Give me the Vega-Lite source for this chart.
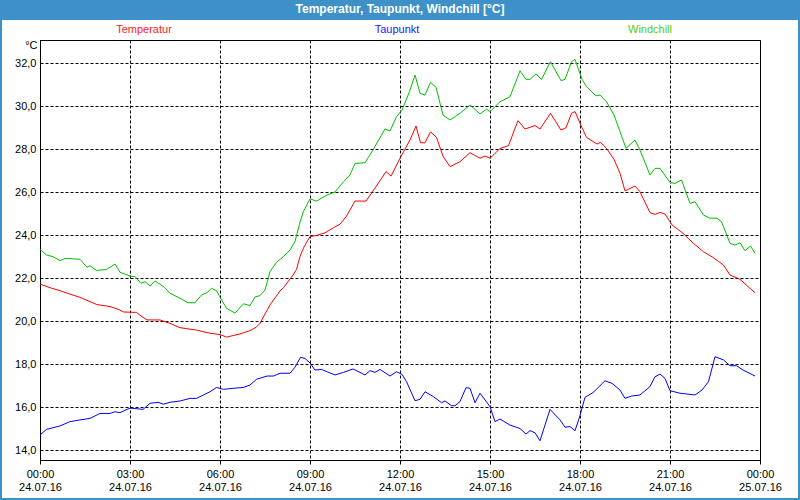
{
  "$schema": "https://vega.github.io/schema/vega-lite/v6.json",
  "width": 720,
  "height": 420,
  "autosize": {"type": "none"},
  "padding": {"left": 40, "top": 40, "right": 40, "bottom": 40},
  "background": "#ffffff",
  "config": {
    "font": "Liberation Sans",
    "locale": {"number": {"decimal": ",", "thousands": ".", "grouping": [3], "currency": ["", " €"]}},
    "view": {"stroke": "#000000", "strokeWidth": 1},
    "axis": {"domainColor": "#000000", "labelColor": "#000000", "labelFontSize": 11, "labelFont": "Liberation Sans", "gridColor": "#000000", "gridDash": [3, 2], "gridWidth": 1, "tickColor": "#000000"}
  },
  "datasets": {
    "box": [{"k": 1}],
    "wx": [
      {"t":"2016-07-24T00:00","s":"Temperatur","v":21.72},{"t":"2016-07-24T00:20","s":"Temperatur","v":21.55},{"t":"2016-07-24T00:40","s":"Temperatur","v":21.41},{"t":"2016-07-24T01:00","s":"Temperatur","v":21.25},{"t":"2016-07-24T01:20","s":"Temperatur","v":21.10},{"t":"2016-07-24T01:40","s":"Temperatur","v":20.90},{"t":"2016-07-24T01:53","s":"Temperatur","v":20.77},{"t":"2016-07-24T02:20","s":"Temperatur","v":20.67},{"t":"2016-07-24T02:36","s":"Temperatur","v":20.55},{"t":"2016-07-24T02:47","s":"Temperatur","v":20.42},{"t":"2016-07-24T03:13","s":"Temperatur","v":20.40},{"t":"2016-07-24T03:24","s":"Temperatur","v":20.20},{"t":"2016-07-24T03:34","s":"Temperatur","v":20.05},{"t":"2016-07-24T04:00","s":"Temperatur","v":20.05},{"t":"2016-07-24T04:20","s":"Temperatur","v":19.89},{"t":"2016-07-24T04:40","s":"Temperatur","v":19.69},{"t":"2016-07-24T05:00","s":"Temperatur","v":19.62},{"t":"2016-07-24T05:13","s":"Temperatur","v":19.58},{"t":"2016-07-24T05:40","s":"Temperatur","v":19.43},{"t":"2016-07-24T06:00","s":"Temperatur","v":19.37},{"t":"2016-07-24T06:13","s":"Temperatur","v":19.25},{"t":"2016-07-24T06:40","s":"Temperatur","v":19.40},{"t":"2016-07-24T07:00","s":"Temperatur","v":19.55},{"t":"2016-07-24T07:13","s":"Temperatur","v":19.72},{"t":"2016-07-24T07:20","s":"Temperatur","v":19.89},{"t":"2016-07-24T07:34","s":"Temperatur","v":20.50},{"t":"2016-07-24T07:40","s":"Temperatur","v":20.75},{"t":"2016-07-24T08:00","s":"Temperatur","v":21.40},{"t":"2016-07-24T08:07","s":"Temperatur","v":21.55},{"t":"2016-07-24T08:26","s":"Temperatur","v":22.14},{"t":"2016-07-24T08:33","s":"Temperatur","v":22.40},{"t":"2016-07-24T08:40","s":"Temperatur","v":23.00},{"t":"2016-07-24T08:47","s":"Temperatur","v":23.40},{"t":"2016-07-24T09:00","s":"Temperatur","v":23.93},{"t":"2016-07-24T09:13","s":"Temperatur","v":23.98},{"t":"2016-07-24T09:30","s":"Temperatur","v":24.10},{"t":"2016-07-24T09:47","s":"Temperatur","v":24.34},{"t":"2016-07-24T10:00","s":"Temperatur","v":24.50},{"t":"2016-07-24T10:13","s":"Temperatur","v":24.88},{"t":"2016-07-24T10:30","s":"Temperatur","v":25.58},{"t":"2016-07-24T10:52","s":"Temperatur","v":25.58},{"t":"2016-07-24T11:13","s":"Temperatur","v":26.28},{"t":"2016-07-24T11:32","s":"Temperatur","v":26.95},{"t":"2016-07-24T11:42","s":"Temperatur","v":26.74},{"t":"2016-07-24T12:00","s":"Temperatur","v":27.57},{"t":"2016-07-24T12:20","s":"Temperatur","v":28.42},{"t":"2016-07-24T12:32","s":"Temperatur","v":29.07},{"t":"2016-07-24T12:41","s":"Temperatur","v":28.29},{"t":"2016-07-24T12:50","s":"Temperatur","v":28.29},{"t":"2016-07-24T13:01","s":"Temperatur","v":28.80},{"t":"2016-07-24T13:13","s":"Temperatur","v":28.54},{"t":"2016-07-24T13:26","s":"Temperatur","v":27.67},{"t":"2016-07-24T13:40","s":"Temperatur","v":27.18},{"t":"2016-07-24T14:00","s":"Temperatur","v":27.41},{"t":"2016-07-24T14:20","s":"Temperatur","v":27.83},{"t":"2016-07-24T14:40","s":"Temperatur","v":27.57},{"t":"2016-07-24T14:50","s":"Temperatur","v":27.67},{"t":"2016-07-24T15:00","s":"Temperatur","v":27.57},{"t":"2016-07-24T15:20","s":"Temperatur","v":28.02},{"t":"2016-07-24T15:37","s":"Temperatur","v":28.16},{"t":"2016-07-24T15:56","s":"Temperatur","v":29.32},{"t":"2016-07-24T16:10","s":"Temperatur","v":28.93},{"t":"2016-07-24T16:30","s":"Temperatur","v":29.09},{"t":"2016-07-24T16:40","s":"Temperatur","v":28.93},{"t":"2016-07-24T17:01","s":"Temperatur","v":29.66},{"t":"2016-07-24T17:22","s":"Temperatur","v":28.88},{"t":"2016-07-24T17:32","s":"Temperatur","v":28.99},{"t":"2016-07-24T17:43","s":"Temperatur","v":29.66},{"t":"2016-07-24T17:50","s":"Temperatur","v":29.74},{"t":"2016-07-24T18:04","s":"Temperatur","v":28.99},{"t":"2016-07-24T18:13","s":"Temperatur","v":28.54},{"t":"2016-07-24T18:34","s":"Temperatur","v":28.23},{"t":"2016-07-24T18:41","s":"Temperatur","v":28.31},{"t":"2016-07-24T18:53","s":"Temperatur","v":28.03},{"t":"2016-07-24T19:08","s":"Temperatur","v":27.52},{"t":"2016-07-24T19:20","s":"Temperatur","v":26.87},{"t":"2016-07-24T19:30","s":"Temperatur","v":26.05},{"t":"2016-07-24T19:50","s":"Temperatur","v":26.28},{"t":"2016-07-24T20:00","s":"Temperatur","v":26.01},{"t":"2016-07-24T20:20","s":"Temperatur","v":25.04},{"t":"2016-07-24T20:30","s":"Temperatur","v":24.96},{"t":"2016-07-24T20:40","s":"Temperatur","v":25.05},{"t":"2016-07-24T20:50","s":"Temperatur","v":24.98},{"t":"2016-07-24T21:04","s":"Temperatur","v":24.47},{"t":"2016-07-24T21:26","s":"Temperatur","v":24.08},{"t":"2016-07-24T21:47","s":"Temperatur","v":23.61},{"t":"2016-07-24T22:07","s":"Temperatur","v":23.22},{"t":"2016-07-24T22:26","s":"Temperatur","v":22.96},{"t":"2016-07-24T22:47","s":"Temperatur","v":22.60},{"t":"2016-07-24T23:00","s":"Temperatur","v":22.14},{"t":"2016-07-24T23:20","s":"Temperatur","v":21.94},{"t":"2016-07-24T23:36","s":"Temperatur","v":21.60},{"t":"2016-07-24T23:50","s":"Temperatur","v":21.32},
      {"t":"2016-07-24T00:00","s":"Taupunkt","v":14.70},{"t":"2016-07-24T00:13","s":"Taupunkt","v":14.96},{"t":"2016-07-24T00:40","s":"Taupunkt","v":15.12},{"t":"2016-07-24T01:00","s":"Taupunkt","v":15.32},{"t":"2016-07-24T01:20","s":"Taupunkt","v":15.40},{"t":"2016-07-24T01:40","s":"Taupunkt","v":15.47},{"t":"2016-07-24T02:00","s":"Taupunkt","v":15.70},{"t":"2016-07-24T02:20","s":"Taupunkt","v":15.70},{"t":"2016-07-24T02:30","s":"Taupunkt","v":15.78},{"t":"2016-07-24T02:40","s":"Taupunkt","v":15.74},{"t":"2016-07-24T03:00","s":"Taupunkt","v":15.95},{"t":"2016-07-24T03:26","s":"Taupunkt","v":15.89},{"t":"2016-07-24T03:40","s":"Taupunkt","v":16.17},{"t":"2016-07-24T03:56","s":"Taupunkt","v":16.22},{"t":"2016-07-24T04:07","s":"Taupunkt","v":16.13},{"t":"2016-07-24T04:20","s":"Taupunkt","v":16.22},{"t":"2016-07-24T04:40","s":"Taupunkt","v":16.28},{"t":"2016-07-24T05:00","s":"Taupunkt","v":16.40},{"t":"2016-07-24T05:13","s":"Taupunkt","v":16.40},{"t":"2016-07-24T05:40","s":"Taupunkt","v":16.71},{"t":"2016-07-24T05:53","s":"Taupunkt","v":16.91},{"t":"2016-07-24T06:07","s":"Taupunkt","v":16.82},{"t":"2016-07-24T06:26","s":"Taupunkt","v":16.87},{"t":"2016-07-24T06:47","s":"Taupunkt","v":16.91},{"t":"2016-07-24T07:00","s":"Taupunkt","v":17.02},{"t":"2016-07-24T07:13","s":"Taupunkt","v":17.29},{"t":"2016-07-24T07:34","s":"Taupunkt","v":17.44},{"t":"2016-07-24T07:47","s":"Taupunkt","v":17.44},{"t":"2016-07-24T08:00","s":"Taupunkt","v":17.57},{"t":"2016-07-24T08:20","s":"Taupunkt","v":17.57},{"t":"2016-07-24T08:30","s":"Taupunkt","v":17.85},{"t":"2016-07-24T08:41","s":"Taupunkt","v":18.31},{"t":"2016-07-24T08:50","s":"Taupunkt","v":18.26},{"t":"2016-07-24T09:00","s":"Taupunkt","v":18.05},{"t":"2016-07-24T09:10","s":"Taupunkt","v":17.72},{"t":"2016-07-24T09:23","s":"Taupunkt","v":17.75},{"t":"2016-07-24T09:34","s":"Taupunkt","v":17.64},{"t":"2016-07-24T09:50","s":"Taupunkt","v":17.49},{"t":"2016-07-24T10:07","s":"Taupunkt","v":17.61},{"t":"2016-07-24T10:26","s":"Taupunkt","v":17.77},{"t":"2016-07-24T10:50","s":"Taupunkt","v":17.49},{"t":"2016-07-24T11:00","s":"Taupunkt","v":17.69},{"t":"2016-07-24T11:10","s":"Taupunkt","v":17.61},{"t":"2016-07-24T11:20","s":"Taupunkt","v":17.75},{"t":"2016-07-24T11:40","s":"Taupunkt","v":17.44},{"t":"2016-07-24T11:53","s":"Taupunkt","v":17.64},{"t":"2016-07-24T12:04","s":"Taupunkt","v":17.52},{"t":"2016-07-24T12:13","s":"Taupunkt","v":17.18},{"t":"2016-07-24T12:30","s":"Taupunkt","v":16.29},{"t":"2016-07-24T12:40","s":"Taupunkt","v":16.36},{"t":"2016-07-24T12:50","s":"Taupunkt","v":16.71},{"t":"2016-07-24T13:07","s":"Taupunkt","v":16.48},{"t":"2016-07-24T13:23","s":"Taupunkt","v":16.20},{"t":"2016-07-24T13:30","s":"Taupunkt","v":16.28},{"t":"2016-07-24T13:43","s":"Taupunkt","v":16.06},{"t":"2016-07-24T13:50","s":"Taupunkt","v":16.06},{"t":"2016-07-24T14:00","s":"Taupunkt","v":16.25},{"t":"2016-07-24T14:12","s":"Taupunkt","v":16.90},{"t":"2016-07-24T14:20","s":"Taupunkt","v":16.87},{"t":"2016-07-24T14:30","s":"Taupunkt","v":16.20},{"t":"2016-07-24T14:40","s":"Taupunkt","v":16.64},{"t":"2016-07-24T15:00","s":"Taupunkt","v":16.02},{"t":"2016-07-24T15:10","s":"Taupunkt","v":15.32},{"t":"2016-07-24T15:20","s":"Taupunkt","v":15.44},{"t":"2016-07-24T15:40","s":"Taupunkt","v":15.16},{"t":"2016-07-24T16:00","s":"Taupunkt","v":15.00},{"t":"2016-07-24T16:12","s":"Taupunkt","v":14.74},{"t":"2016-07-24T16:20","s":"Taupunkt","v":14.90},{"t":"2016-07-24T16:30","s":"Taupunkt","v":14.80},{"t":"2016-07-24T16:40","s":"Taupunkt","v":14.43},{"t":"2016-07-24T16:50","s":"Taupunkt","v":15.16},{"t":"2016-07-24T17:00","s":"Taupunkt","v":15.89},{"t":"2016-07-24T17:20","s":"Taupunkt","v":15.40},{"t":"2016-07-24T17:30","s":"Taupunkt","v":15.06},{"t":"2016-07-24T17:40","s":"Taupunkt","v":15.09},{"t":"2016-07-24T17:50","s":"Taupunkt","v":14.90},{"t":"2016-07-24T18:00","s":"Taupunkt","v":15.60},{"t":"2016-07-24T18:10","s":"Taupunkt","v":16.45},{"t":"2016-07-24T18:26","s":"Taupunkt","v":16.67},{"t":"2016-07-24T18:50","s":"Taupunkt","v":17.22},{"t":"2016-07-24T19:04","s":"Taupunkt","v":17.10},{"t":"2016-07-24T19:20","s":"Taupunkt","v":16.79},{"t":"2016-07-24T19:30","s":"Taupunkt","v":16.40},{"t":"2016-07-24T19:43","s":"Taupunkt","v":16.51},{"t":"2016-07-24T20:00","s":"Taupunkt","v":16.56},{"t":"2016-07-24T20:20","s":"Taupunkt","v":16.95},{"t":"2016-07-24T20:30","s":"Taupunkt","v":17.41},{"t":"2016-07-24T20:40","s":"Taupunkt","v":17.53},{"t":"2016-07-24T20:50","s":"Taupunkt","v":17.33},{"t":"2016-07-24T21:00","s":"Taupunkt","v":16.76},{"t":"2016-07-24T21:20","s":"Taupunkt","v":16.64},{"t":"2016-07-24T21:50","s":"Taupunkt","v":16.56},{"t":"2016-07-24T22:04","s":"Taupunkt","v":16.79},{"t":"2016-07-24T22:17","s":"Taupunkt","v":17.18},{"t":"2016-07-24T22:30","s":"Taupunkt","v":18.34},{"t":"2016-07-24T22:47","s":"Taupunkt","v":18.19},{"t":"2016-07-24T23:00","s":"Taupunkt","v":17.92},{"t":"2016-07-24T23:13","s":"Taupunkt","v":17.92},{"t":"2016-07-24T23:26","s":"Taupunkt","v":17.72},{"t":"2016-07-24T23:50","s":"Taupunkt","v":17.44},
      {"t":"2016-07-24T00:00","s":"Windchill","v":23.33},{"t":"2016-07-24T00:13","s":"Windchill","v":23.07},{"t":"2016-07-24T00:26","s":"Windchill","v":22.99},{"t":"2016-07-24T00:40","s":"Windchill","v":22.81},{"t":"2016-07-24T00:50","s":"Windchill","v":22.91},{"t":"2016-07-24T01:00","s":"Windchill","v":22.90},{"t":"2016-07-24T01:20","s":"Windchill","v":22.87},{"t":"2016-07-24T01:30","s":"Windchill","v":22.60},{"t":"2016-07-24T01:34","s":"Windchill","v":22.50},{"t":"2016-07-24T01:40","s":"Windchill","v":22.57},{"t":"2016-07-24T01:53","s":"Windchill","v":22.35},{"t":"2016-07-24T02:13","s":"Windchill","v":22.40},{"t":"2016-07-24T02:30","s":"Windchill","v":22.65},{"t":"2016-07-24T02:40","s":"Windchill","v":22.27},{"t":"2016-07-24T03:00","s":"Windchill","v":22.09},{"t":"2016-07-24T03:10","s":"Windchill","v":22.07},{"t":"2016-07-24T03:22","s":"Windchill","v":21.75},{"t":"2016-07-24T03:30","s":"Windchill","v":21.83},{"t":"2016-07-24T03:40","s":"Windchill","v":21.63},{"t":"2016-07-24T03:50","s":"Windchill","v":21.86},{"t":"2016-07-24T04:07","s":"Windchill","v":21.60},{"t":"2016-07-24T04:20","s":"Windchill","v":21.29},{"t":"2016-07-24T04:40","s":"Windchill","v":21.06},{"t":"2016-07-24T04:56","s":"Windchill","v":20.85},{"t":"2016-07-24T05:10","s":"Windchill","v":20.85},{"t":"2016-07-24T05:23","s":"Windchill","v":21.21},{"t":"2016-07-24T05:34","s":"Windchill","v":21.32},{"t":"2016-07-24T05:43","s":"Windchill","v":21.52},{"t":"2016-07-24T05:53","s":"Windchill","v":21.41},{"t":"2016-07-24T06:04","s":"Windchill","v":20.95},{"t":"2016-07-24T06:13","s":"Windchill","v":20.59},{"t":"2016-07-24T06:30","s":"Windchill","v":20.37},{"t":"2016-07-24T06:47","s":"Windchill","v":20.80},{"t":"2016-07-24T07:00","s":"Windchill","v":20.72},{"t":"2016-07-24T07:10","s":"Windchill","v":21.12},{"t":"2016-07-24T07:20","s":"Windchill","v":21.18},{"t":"2016-07-24T07:30","s":"Windchill","v":21.44},{"t":"2016-07-24T07:40","s":"Windchill","v":22.30},{"t":"2016-07-24T07:53","s":"Windchill","v":22.73},{"t":"2016-07-24T08:07","s":"Windchill","v":23.00},{"t":"2016-07-24T08:20","s":"Windchill","v":23.30},{"t":"2016-07-24T08:30","s":"Windchill","v":23.70},{"t":"2016-07-24T08:40","s":"Windchill","v":24.60},{"t":"2016-07-24T08:47","s":"Windchill","v":25.10},{"t":"2016-07-24T09:00","s":"Windchill","v":25.68},{"t":"2016-07-24T09:13","s":"Windchill","v":25.58},{"t":"2016-07-24T09:34","s":"Windchill","v":25.86},{"t":"2016-07-24T09:50","s":"Windchill","v":26.00},{"t":"2016-07-24T10:07","s":"Windchill","v":26.48},{"t":"2016-07-24T10:20","s":"Windchill","v":26.79},{"t":"2016-07-24T10:30","s":"Windchill","v":27.33},{"t":"2016-07-24T10:50","s":"Windchill","v":27.36},{"t":"2016-07-24T11:04","s":"Windchill","v":27.88},{"t":"2016-07-24T11:30","s":"Windchill","v":28.93},{"t":"2016-07-24T11:40","s":"Windchill","v":28.84},{"t":"2016-07-24T11:53","s":"Windchill","v":29.50},{"t":"2016-07-24T12:04","s":"Windchill","v":29.81},{"t":"2016-07-24T12:19","s":"Windchill","v":30.67},{"t":"2016-07-24T12:30","s":"Windchill","v":31.44},{"t":"2016-07-24T12:40","s":"Windchill","v":30.59},{"t":"2016-07-24T12:50","s":"Windchill","v":30.51},{"t":"2016-07-24T13:01","s":"Windchill","v":31.10},{"t":"2016-07-24T13:12","s":"Windchill","v":30.87},{"t":"2016-07-24T13:26","s":"Windchill","v":29.58},{"t":"2016-07-24T13:40","s":"Windchill","v":29.35},{"t":"2016-07-24T14:00","s":"Windchill","v":29.66},{"t":"2016-07-24T14:20","s":"Windchill","v":30.05},{"t":"2016-07-24T14:40","s":"Windchill","v":29.63},{"t":"2016-07-24T14:53","s":"Windchill","v":29.85},{"t":"2016-07-24T15:00","s":"Windchill","v":29.74},{"t":"2016-07-24T15:20","s":"Windchill","v":30.20},{"t":"2016-07-24T15:40","s":"Windchill","v":30.43},{"t":"2016-07-24T16:00","s":"Windchill","v":31.64},{"t":"2016-07-24T16:12","s":"Windchill","v":31.24},{"t":"2016-07-24T16:20","s":"Windchill","v":31.24},{"t":"2016-07-24T16:32","s":"Windchill","v":31.49},{"t":"2016-07-24T16:43","s":"Windchill","v":31.24},{"t":"2016-07-24T17:01","s":"Windchill","v":32.06},{"t":"2016-07-24T17:22","s":"Windchill","v":31.18},{"t":"2016-07-24T17:30","s":"Windchill","v":31.24},{"t":"2016-07-24T17:43","s":"Windchill","v":32.06},{"t":"2016-07-24T17:50","s":"Windchill","v":32.17},{"t":"2016-07-24T18:04","s":"Windchill","v":31.24},{"t":"2016-07-24T18:13","s":"Windchill","v":30.90},{"t":"2016-07-24T18:32","s":"Windchill","v":30.47},{"t":"2016-07-24T18:40","s":"Windchill","v":30.51},{"t":"2016-07-24T18:53","s":"Windchill","v":30.20},{"t":"2016-07-24T19:08","s":"Windchill","v":29.58},{"t":"2016-07-24T19:20","s":"Windchill","v":28.81},{"t":"2016-07-24T19:32","s":"Windchill","v":28.03},{"t":"2016-07-24T19:50","s":"Windchill","v":28.42},{"t":"2016-07-24T20:00","s":"Windchill","v":27.95},{"t":"2016-07-24T20:20","s":"Windchill","v":26.79},{"t":"2016-07-24T20:30","s":"Windchill","v":27.10},{"t":"2016-07-24T20:40","s":"Windchill","v":27.10},{"t":"2016-07-24T21:00","s":"Windchill","v":26.44},{"t":"2016-07-24T21:10","s":"Windchill","v":26.40},{"t":"2016-07-24T21:23","s":"Windchill","v":26.56},{"t":"2016-07-24T21:40","s":"Windchill","v":25.47},{"t":"2016-07-24T21:50","s":"Windchill","v":25.55},{"t":"2016-07-24T22:07","s":"Windchill","v":24.93},{"t":"2016-07-24T22:20","s":"Windchill","v":24.78},{"t":"2016-07-24T22:34","s":"Windchill","v":24.78},{"t":"2016-07-24T22:43","s":"Windchill","v":24.62},{"t":"2016-07-24T23:00","s":"Windchill","v":23.61},{"t":"2016-07-24T23:10","s":"Windchill","v":23.53},{"t":"2016-07-24T23:20","s":"Windchill","v":23.64},{"t":"2016-07-24T23:30","s":"Windchill","v":23.27},{"t":"2016-07-24T23:41","s":"Windchill","v":23.49},{"t":"2016-07-24T23:50","s":"Windchill","v":23.15}
    ]
  },
  "layer": [
    {
      "data": {"name": "box"},
      "mark": {"type": "rect", "fill": "#3d90c8", "clip": false},
      "encoding": {
        "x": {"datum": {"year": 2016, "month": 7, "date": 23, "hours": 22, "minutes": 30}, "type": "temporal"},
        "x2": {"datum": {"year": 2016, "month": 7, "date": 25, "hours": 1, "minutes": 30}},
        "y": {"datum": 35.3, "type": "quantitative"},
        "y2": {"datum": 34.0}
      }
    },
    {
      "data": {"name": "box"},
      "mark": {"type": "rect", "fillOpacity": 0, "stroke": "#3d90c8", "strokeWidth": 2, "clip": false},
      "encoding": {
        "x": {"datum": {"year": 2016, "month": 7, "date": 23, "hours": 22, "minutes": 42}, "type": "temporal"},
        "x2": {"datum": {"year": 2016, "month": 7, "date": 25, "hours": 1, "minutes": 18}},
        "y": {"datum": 34.5, "type": "quantitative"},
        "y2": {"datum": 11.72}
      }
    },
    {
      "data": {"name": "box"},
      "mark": {"type": "text", "color": "#ffffff", "fontSize": 12, "fontWeight": "bold", "align": "center", "baseline": "middle", "clip": false},
      "encoding": {
        "x": {"datum": {"year": 2016, "month": 7, "date": 24, "hours": 12}, "type": "temporal"},
        "y": {"datum": 34.49, "type": "quantitative"},
        "text": {"value": "Temperatur, Taupunkt, Windchill [°C]"}
      }
    },
    {
      "data": {"name": "box"},
      "mark": {"type": "text", "color": "#ff2020", "fontSize": 11, "align": "center", "baseline": "middle", "clip": false},
      "encoding": {
        "x": {"datum": {"year": 2016, "month": 7, "date": 24, "hours": 3, "minutes": 28}, "type": "temporal"},
        "y": {"datum": 33.535, "type": "quantitative"},
        "text": {"value": "Temperatur"}
      }
    },
    {
      "data": {"name": "box"},
      "mark": {"type": "text", "color": "#2020ff", "fontSize": 11, "align": "center", "baseline": "middle", "clip": false},
      "encoding": {
        "x": {"datum": {"year": 2016, "month": 7, "date": 24, "hours": 11, "minutes": 54}, "type": "temporal"},
        "y": {"datum": 33.535, "type": "quantitative"},
        "text": {"value": "Taupunkt"}
      }
    },
    {
      "data": {"name": "box"},
      "mark": {"type": "text", "color": "#55cc00", "fontSize": 11, "align": "center", "baseline": "middle", "clip": false},
      "encoding": {
        "x": {"datum": {"year": 2016, "month": 7, "date": 24, "hours": 20, "minutes": 20}, "type": "temporal"},
        "y": {"datum": 33.535, "type": "quantitative"},
        "text": {"value": "Windchill"}
      }
    },
    {
      "data": {"name": "wx"},
      "mark": {"type": "line", "strokeWidth": 1},
      "encoding": {
        "x": {
          "field": "t", "type": "temporal",
          "scale": {"domain": [{"year": 2016, "month": 7, "date": 24, "hours": 0}, {"year": 2016, "month": 7, "date": 25, "hours": 0}]},
          "axis": {
            "title": null,
            "values": [
              {"year": 2016, "month": 7, "date": 24, "hours": 0}, {"year": 2016, "month": 7, "date": 24, "hours": 3}, {"year": 2016, "month": 7, "date": 24, "hours": 6},
              {"year": 2016, "month": 7, "date": 24, "hours": 9}, {"year": 2016, "month": 7, "date": 24, "hours": 12}, {"year": 2016, "month": 7, "date": 24, "hours": 15},
              {"year": 2016, "month": 7, "date": 24, "hours": 18}, {"year": 2016, "month": 7, "date": 24, "hours": 21}, {"year": 2016, "month": 7, "date": 25, "hours": 0}
            ],
            "grid": true,
            "tickSize": 4,
            "labelPadding": 4,
            "labelOverlap": false,
            "labelFlush": false,
            "labelExpr": "[timeFormat(datum.value, '%H:%M'), timeFormat(datum.value, '%d.%m.%y')]"
          }
        },
        "y": {
          "field": "v", "type": "quantitative",
          "scale": {"domain": [13.535, 33.07], "nice": false, "zero": false},
          "axis": {
            "title": "°C",
            "titleAngle": 0,
            "titleFontWeight": "normal",
            "titleFontSize": 11,
            "titleAlign": "right",
            "titleBaseline": "middle",
            "titleX": -3,
            "titleY": 5,
            "values": [14, 15, 16, 17, 18, 19, 20, 21, 22, 23, 24, 25, 26, 27, 28, 29, 30, 31, 32],
            "ticks": false,
            "labelPadding": 4,
            "labelOverlap": false,
            "grid": true,
            "format": ".1f"
          }
        },
        "color": {
          "field": "s", "type": "nominal",
          "scale": {"domain": ["Temperatur", "Taupunkt", "Windchill"], "range": ["#ff0000", "#0000ff", "#00c000"]},
          "legend": null
        }
      }
    }
  ]
}
